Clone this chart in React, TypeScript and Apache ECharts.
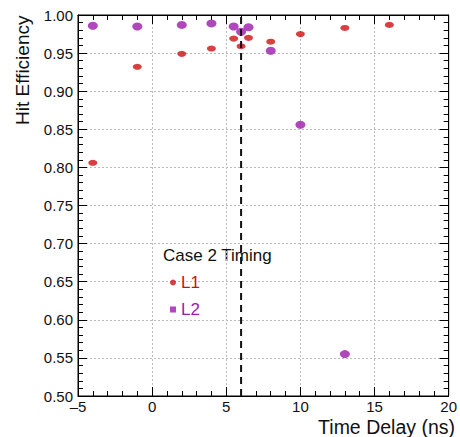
import React, { useEffect, useRef } from "react";
import * as echarts from "echarts";

const delaysL1 = [-4, -1, 2, 4, 5.5, 6, 6.5, 8, 10, 13, 16];
const effL1 = [0.806, 0.932, 0.949, 0.956, 0.969, 0.959, 0.970, 0.965, 0.975, 0.983, 0.987];
const delaysL2 = [-4, -1, 2, 4, 5.5, 6, 6.5, 8, 10, 13];
const effL2 = [0.986, 0.985, 0.987, 0.989, 0.985, 0.978, 0.984, 0.953, 0.856, 0.555];
const markerDelay = 6;
const legendTitle = "Case 2 Timing";

const RED = "#cc1010";
const PURPLE = "#9a1aaa";
const FONT = "Liberation Sans, Arial, sans-serif";

export default function App() {
  const ref = useRef<HTMLDivElement>(null);
  useEffect(() => {
    const chart = echarts.init(ref.current!, undefined, { renderer: "svg" });
    const xCommon = {
      type: "value" as const,
      min: -5,
      max: 20,
      interval: 5,
      axisLine: { show: true, onZero: false, lineStyle: { color: "#000", width: 1 } },
      axisTick: { show: true, inside: true, length: 9, lineStyle: { color: "#000" } },
      minorTick: { show: true, splitNumber: 5, length: 5, lineStyle: { color: "#000" } },
    };
    const yCommon = {
      type: "value" as const,
      min: 0.5,
      max: 1.0,
      interval: 0.05,
      axisLine: { show: true, onZero: false, lineStyle: { color: "#000", width: 1 } },
      axisTick: { show: true, inside: true, length: 9, lineStyle: { color: "#000" } },
      minorTick: { show: true, splitNumber: 5, length: 5, lineStyle: { color: "#000" } },
    };
    chart.setOption({
      animation: false,
      backgroundColor: "#fff",
      grid: { left: 78, right: 9, top: 15, bottom: 41, show: true, borderColor: "#000", borderWidth: 1 },
      xAxis: [
        {
          ...xCommon,
          position: "bottom",
          axisLabel: {
            show: true,
            color: "#111",
            fontSize: 15,
            fontFamily: FONT,
            margin: 3,
            lineHeight: 15,
            formatter: (v: number) => (v < 0 ? "\u2013" + Math.abs(v) : String(v)),
          },
          splitLine: { show: true, lineStyle: { color: "#bbb", type: [2, 2], width: 1 } },
        },
        {
          ...xCommon,
          position: "top",
          axisLabel: { show: false },
          splitLine: { show: false },
        },
      ],
      yAxis: [
        {
          ...yCommon,
          position: "left",
          axisLabel: {
            show: true,
            color: "#111",
            fontSize: 15,
            fontFamily: FONT,
            margin: 5,
            formatter: (v: number) => v.toFixed(2),
          },
          splitLine: { show: true, lineStyle: { color: "#bbb", type: [2, 2], width: 1 } },
        },
        {
          ...yCommon,
          position: "right",
          axisLabel: { show: false },
          splitLine: { show: false },
        },
      ],
      legend: {
        show: true,
        orient: "vertical",
        left: 165,
        top: 269,
        itemWidth: 6,
        itemHeight: 6,
        itemGap: 10,
        textStyle: { fontSize: 17, fontFamily: FONT },
        data: [
          { name: "L1", icon: "circle", itemStyle: { color: RED }, textStyle: { color: RED } },
          { name: "L2", icon: "rect", itemStyle: { color: PURPLE }, textStyle: { color: PURPLE } },
        ],
        selectedMode: false,
      },
      graphic: [
        {
          type: "text",
          x: 163,
          y: 255,
          style: {
            text: legendTitle,
            fontSize: 17,
            fontFamily: FONT,
            fill: "#111",
            align: "left",
            verticalAlign: "middle",
          },
        },
        {
          type: "text",
          x: 22,
          y: 125,
          rotation: Math.PI / 2,
          style: {
            text: "Hit Efficiency",
            fontSize: 19,
            fontFamily: FONT,
            fill: "#111",
            align: "left",
            verticalAlign: "middle",
          },
        },
        {
          type: "text",
          x: 455,
          y: 427,
          style: {
            text: "Time Delay (ns)",
            fontSize: 19.5,
            fontFamily: FONT,
            fill: "#111",
            align: "right",
            verticalAlign: "middle",
          },
        },
      ],
      series: [
        {
          name: "L1",
          type: "scatter",
          xAxisIndex: 0,
          yAxisIndex: 0,
          symbol: "circle",
          symbolSize: [9, 6],
          itemStyle: { color: RED },
          data: delaysL1.map((x, i) => [x, effL1[i]]),
          z: 3,
        },
        {
          name: "L2",
          type: "scatter",
          xAxisIndex: 0,
          yAxisIndex: 0,
          symbol: "circle",
          symbolSize: [10, 8],
          itemStyle: { color: PURPLE },
          data: delaysL2.map((x, i) => [x, effL2[i]]),
          z: 3,
        },
        {
          name: "marker",
          type: "line",
          xAxisIndex: 0,
          yAxisIndex: 0,
          symbol: "none",
          lineStyle: { color: "#111", width: 2, type: [7, 5] },
          data: [
            [markerDelay, 0.5],
            [markerDelay, 1.0],
          ],
          z: 4,
        },
      ],
    });
    return () => chart.dispose();
  }, []);
  return (
    <div
      ref={ref}
      style={{ position: "absolute", left: 0, top: 0, width: 460, height: 437 }}
    />
  );
}
